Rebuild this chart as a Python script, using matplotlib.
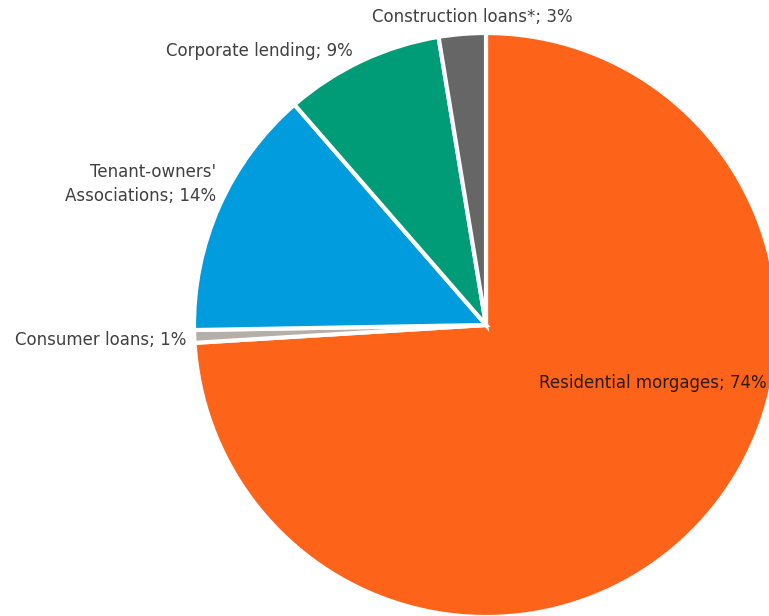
import matplotlib
matplotlib.use("Agg")
import matplotlib.pyplot as plt

# Loan book composition (share of total lending, %)
categories = [
    "Residential morgages",
    "Consumer loans",
    "Tenant-owners'\nAssociations",
    "Corporate lending",
    "Construction loans*",
]
shares = [74.1, 0.7, 13.9, 8.8, 2.6]
colors = ["#FE631A", "#B5AFA9", "#009CDE", "#009C77", "#666666"]

W, H = 769, 616
fig = plt.figure(figsize=(W / 100, H / 100), dpi=100)
ax = fig.add_axes([0, 0, 1, 1])

cx, cy, r = 486, H - 325, 292
ax.pie(
    shares,
    colors=colors,
    startangle=90,
    counterclock=False,
    center=(cx, cy),
    radius=r,
    frame=True,
    wedgeprops=dict(edgecolor="white", linewidth=3),
)
ax.set_xlim(0, W)
ax.set_ylim(0, H)
ax.set_aspect("equal")
ax.axis("off")

# label anchors (pixel coords from top-left) and alignment
label_specs = [
    (767, 383, "right", "#2a1a10"),
    (186, 340, "right", "#404040"),
    (216, 184, "right", "#404040"),
    (353, 51, "right", "#404040"),
    (573, 17, "right", "#404040"),
]
for name, val, (x, y, ha, col) in zip(categories, shares, label_specs):
    ax.text(
        x, H - y, f"{name}; {round(val):.0f}%",
        ha=ha, va="center", multialignment="right",
        fontsize=12, color=col, family=["DejaVu Sans"],
        linespacing=1.45,
    )

fig.savefig("out.png", dpi=100)
